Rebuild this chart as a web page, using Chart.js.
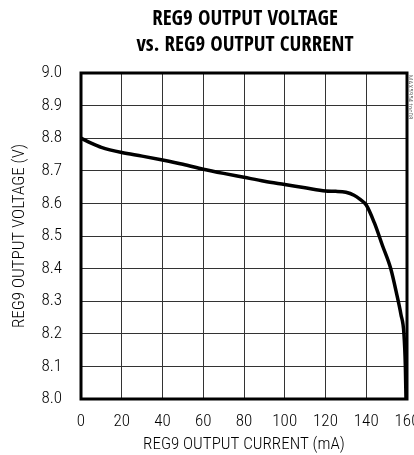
<!DOCTYPE html>
<html>
<head>
<meta charset="utf-8">
<script src="https://cdn.jsdelivr.net/npm/chart.js@4.4.0/dist/chart.umd.min.js"></script>
<style>
  html, body { margin: 0; padding: 0; background: #fff; }
  #wrap { width: 414px; height: 455px; }
</style>
</head>
<body>
<div id="wrap"><canvas id="chart" width="414" height="455"></canvas></div>
<script>
const titleLines = ["REG9 OUTPUT VOLTAGE", "vs. REG9 OUTPUT CURRENT"];
const xTitle = "REG9 OUTPUT CURRENT (mA)";
const yTitle = "REG9 OUTPUT VOLTAGE (V)";
const noteText = "MAX5954 toc08";

const currentMA = [0, 5, 10, 20, 30, 40, 50, 60, 70, 80, 90, 100, 110, 120, 125, 130, 134, 137, 140, 144, 148, 152, 155, 157, 158.5, 159.2, 159.5];
const voltageV = [8.800, 8.785, 8.772, 8.756, 8.745, 8.733, 8.720, 8.705, 8.692, 8.680, 8.668, 8.658, 8.648, 8.638, 8.637, 8.634, 8.625, 8.612, 8.595, 8.540, 8.470, 8.400, 8.320, 8.260, 8.200, 8.100, 8.000];

const xTicks = [0, 20, 40, 60, 80, 100, 120, 140, 160];
const yTicks = [8.0, 8.1, 8.2, 8.3, 8.4, 8.5, 8.6, 8.7, 8.8, 8.9, 9.0];

const narrow = "'Roboto Condensed', 'DejaVu Sans Condensed', sans-serif";
const heavy = "'Open Sans Condensed', 'Roboto Condensed', sans-serif";

// title centred over plot, frame and the small side note
const extras = {
  id: "extras",
  afterDraw(chart) {
    const ctx = chart.ctx;
    const a = chart.chartArea;
    ctx.save();
    ctx.strokeStyle = "#000";
    ctx.lineWidth = 3;
    ctx.strokeRect(a.left, a.top, a.right - a.left, a.bottom - a.top);

    ctx.fillStyle = "#000";
    ctx.textAlign = "center";
    ctx.textBaseline = "middle";
    const cx = (a.left + a.right) / 2;
    ctx.font = "bold 21px " + heavy;
    ctx.fillText(titleLines[0], cx + 1, 20);
    ctx.fillText(titleLines[1], cx + 1, 46);

    ctx.translate(410, 75);
    ctx.rotate(Math.PI / 2);
    ctx.font = "7px " + narrow;
    ctx.fillStyle = "#777";
    ctx.textAlign = "left";
    ctx.fillText(noteText, 0, 0);
    ctx.restore();
  }
};

const ctx = document.getElementById("chart").getContext("2d");
new Chart(ctx, {
  type: "line",
  data: {
    datasets: [{
      data: currentMA.map((x, i) => ({ x: x, y: voltageV[i] })),
      borderColor: "#000",
      borderWidth: 3.5,
      pointRadius: 0,
      cubicInterpolationMode: "monotone",
      fill: false,
    }],
  },
  options: {
    responsive: false,
    animation: false,
    layout: { padding: { top: 73, right: 7, left: 0, bottom: 0 } },
    plugins: {
      legend: { display: false },
      tooltip: { enabled: false },
    },
    scales: {
      x: {
        type: "linear",
        min: 0,
        max: 160,
        afterBuildTicks: (scale) => { scale.ticks = xTicks.map(v => ({ value: v })); },
        afterFit: (scale) => { scale.height = 56; scale.paddingLeft = 0; scale.paddingRight = 0; },
        grid: { color: "#333", lineWidth: 1, drawTicks: false },
        border: { display: false },
        ticks: {
          color: "#000",
          padding: 13,
          maxRotation: 0,
          autoSkip: false,
          font: { family: narrow, size: 17, weight: 300 },
        },
        title: {
          display: true,
          text: xTitle,
          color: "#000",
          padding: { top: -3, bottom: 0 },
          font: { family: narrow, size: 17, weight: 300 },
        },
      },
      y: {
        type: "linear",
        min: 8.0,
        max: 9.0,
        afterBuildTicks: (scale) => { scale.ticks = yTicks.map(v => ({ value: v })); },
        afterFit: (scale) => { scale.width = 81; },
        grid: { color: "#333", lineWidth: 1, drawTicks: false },
        border: { display: false },
        ticks: {
          color: "#000",
          padding: 19,
          autoSkip: false,
          font: { family: narrow, size: 17, weight: 300 },
          callback: (v) => Number(v).toFixed(1),
        },
        title: {
          display: true,
          text: yTitle,
          color: "#000",
          padding: { top: 10, bottom: 0 },
          font: { family: narrow, size: 17, weight: 300 },
        },
      },
    },
  },
  plugins: [extras],
});
</script>
</body>
</html>
